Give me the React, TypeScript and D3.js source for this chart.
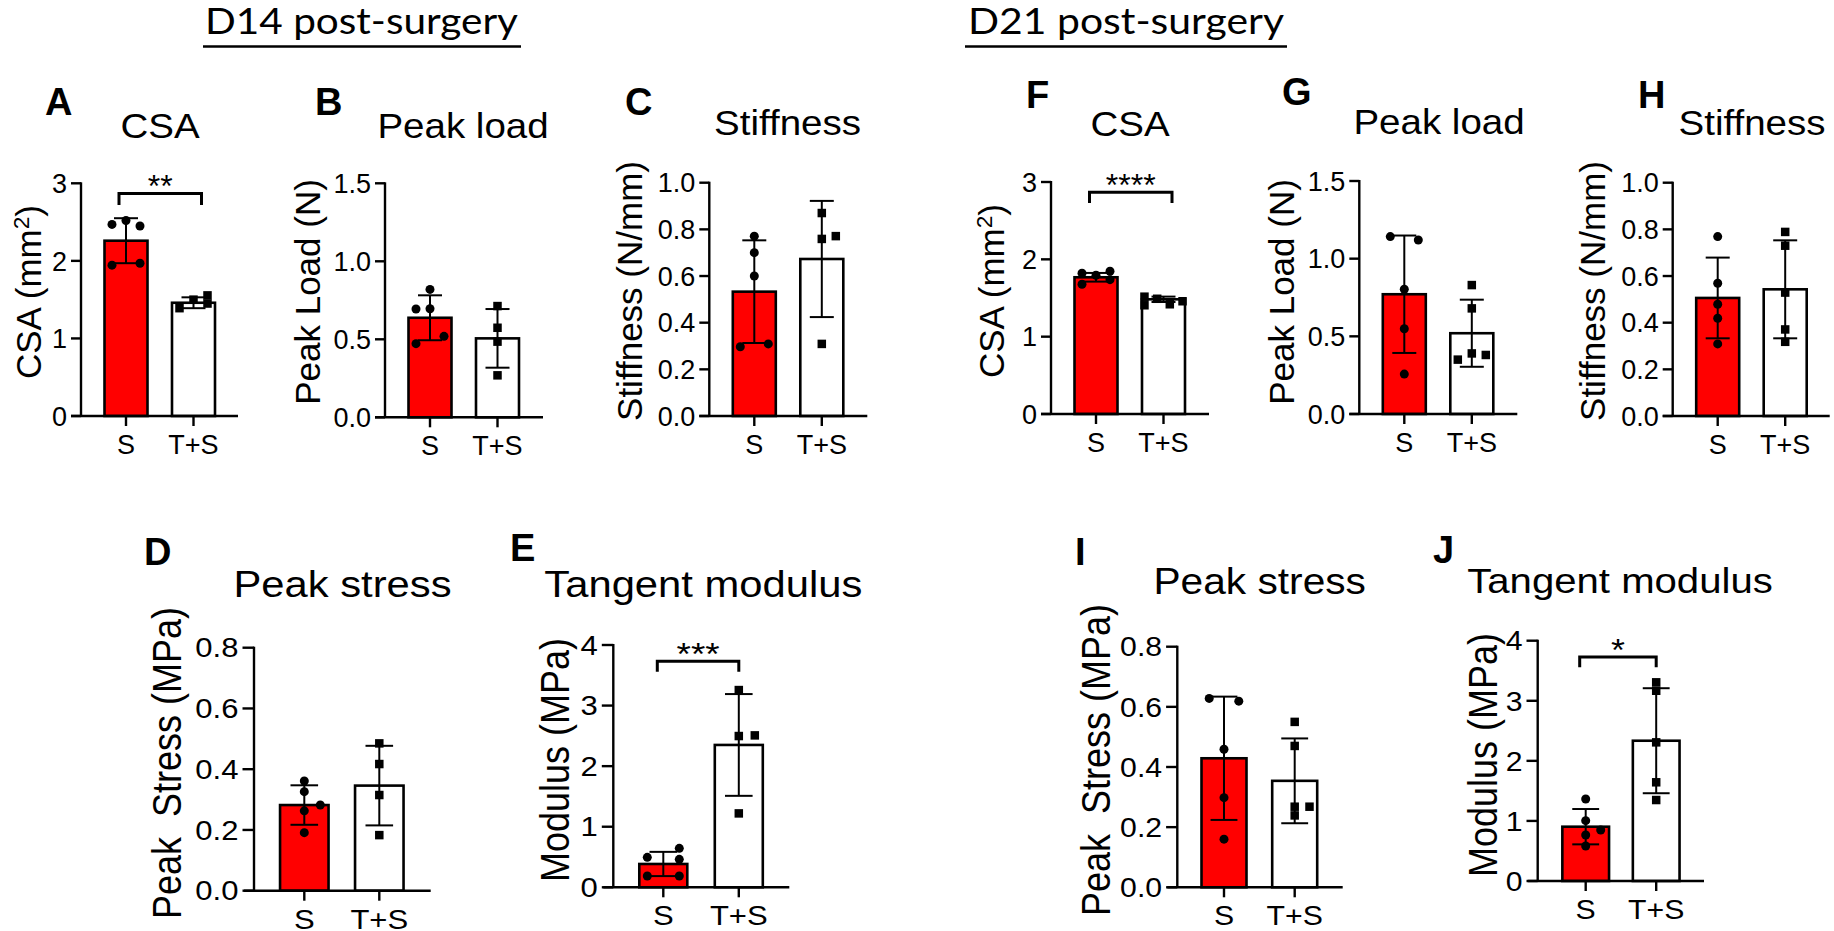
import React from "react";
import * as d3 from "d3";

// ---------- data ----------
const groups = ["S", "T+S"];

// D14 post-surgery
const csaD14_S = [2.47, 2.52, 2.45, 1.945, 1.97];
const csaD14_TS = [1.39, 1.5, 1.555, 1.45];
const csaD14_jitS = [-1, 0, 1, -1, 1];
const csaD14_jitTS = [-1, 0, 1, 1];
const csaD14_mean = [2.26, 1.46];
const csaD14_sd = [0.29, 0.07];

const loadD14_S = [0.82, 0.694, 0.696, 0.472, 0.519];
const loadD14_TS = [0.713, 0.574, 0.485, 0.269];
const loadD14_jitS = [0, -1, 0, -1, 1];
const loadD14_jitTS = [0, 0, 0, 0];
const loadD14_mean = [0.638, 0.506];
const loadD14_sd = [0.144, 0.188];

const stiffD14_S = [0.771, 0.7, 0.6, 0.297, 0.309];
const stiffD14_TS = [0.87, 0.759, 0.771, 0.309];
const stiffD14_jitS = [0, 0, 0, -1, 1];
const stiffD14_jitTS = [0, 0, 1, 0];
const stiffD14_mean = [0.533, 0.673];
const stiffD14_sd = [0.22, 0.249];

const stressD14_S = [0.361, 0.326, 0.263, 0.282, 0.191];
const stressD14_TS = [0.485, 0.417, 0.315, 0.183];
const stressD14_jitS = [0, 0, 0, 1, 0];
const stressD14_jitTS = [0, 0, 0, 0];
const stressD14_mean = [0.282, 0.346];
const stressD14_sd = [0.065, 0.131];

const modD14_S = [0.495, 0.643, 0.462, 0.186, 0.186];
const modD14_TS = [3.256, 2.497, 2.508, 1.22];
const modD14_jitS = [-1, 1, 1, -1, 1];
const modD14_jitTS = [0, 0, 1, 0];
const modD14_mean = [0.385, 2.35];
const modD14_sd = [0.2, 0.84];

// D21 post-surgery
const csaD21_S = [1.82, 1.794, 1.846, 1.678, 1.737];
const csaD21_TS = [1.517, 1.49, 1.406, 1.419, 1.458];
const csaD21_jitS = [-1, 0, 1, -1, 1];
const csaD21_jitTS = [-1.36, -0.45, -1.36, 0.45, 1.36];
const csaD21_mean = [1.768, 1.483];
const csaD21_sd = [0.056, 0.035];

const loadD21_S = [1.142, 1.12, 0.803, 0.549, 0.257];
const loadD21_TS = [0.83, 0.68, 0.35, 0.39, 0.38];
const loadD21_jitS = [-1, 1, 0, 0, 0];
const loadD21_jitTS = [0, 0, -1, 0, 1];
const loadD21_mean = [0.771, 0.52];
const loadD21_sd = [0.378, 0.216];

const stiffD21_S = [0.769, 0.569, 0.479, 0.419, 0.309];
const stiffD21_TS = [0.789, 0.73, 0.529, 0.371, 0.318];
const stiffD21_jitS = [0, 0, 0, 0, 0];
const stiffD21_jitTS = [0, 0, 0, 0, 0];
const stiffD21_mean = [0.506, 0.543];
const stiffD21_sd = [0.173, 0.21];

const stressD21_S = [0.628, 0.619, 0.459, 0.298, 0.16];
const stressD21_TS = [0.55, 0.47, 0.268, 0.268, 0.239];
const stressD21_jitS = [-1, 1, 0, 0, 0];
const stressD21_jitTS = [0, 0, 0, 1, 0];
const stressD21_mean = [0.429, 0.354];
const stressD21_sd = [0.205, 0.141];

const modD21_S = [1.365, 1.004, 0.849, 0.766, 0.583];
const modD21_TS = [3.307, 3.167, 2.308, 1.643, 1.348];
const modD21_jitS = [0, 0, 1, 0, 0];
const modD21_jitTS = [0, 0, 0, 0, 0];
const modD21_mean = [0.904, 2.335];
const modD21_sd = [0.294, 0.874];

const headers = ["D14 post-surgery", "D21 post-surgery"];

// ---------- layout ----------
const FONT = "'Liberation Sans', Arial, Helvetica, sans-serif";
const RED = "#ff0000";

type Sig = { text: string; val: number; leg: number; dl: number; dr: number };
type Panel = {
  letter: string;
  title: string;
  ylab: React.ReactNode;
  yMax: number;
  step: number;
  fmt: string;
  ax: number;
  yTop: number;
  y0: number;
  c1: number;
  c2: number;
  bw: number;
  xLen: number;
  sx: number;
  titleSx: number;
  jit: number;
  titlePos: [number, number];
  letterPos: [number, number];
  ylabPos: [number, number];
  ylabSize: number;
  titleSize: number;
  means: number[];
  sds: number[];
  pts: number[][];
  jits: number[][];
  sig?: Sig;
};

const csaLabel = (
  <>
    CSA (mm
    <tspan fontSize="0.65em" dy="-0.55em">2</tspan>
    <tspan dy="0.36em">)</tspan>
  </>
);

const top = { yMaxOff: 0, c1: 45, c2: 112.5, bw: 43, xLen: 158, sx: 1, titleSx: 1.1, jit: 14, ylabSize: 35, titleSize: 35 };

const panels: Panel[] = [
  {
    ...top, letter: "A", title: "CSA", ylab: csaLabel, yMax: 3, step: 1, fmt: "d",
    ax: 81, yTop: 183.3, y0: 416, xLen: 157,
    titlePos: [160, 138], letterPos: [45, 115], ylabPos: [29, 292],
    means: csaD14_mean, sds: csaD14_sd, pts: [csaD14_S, csaD14_TS], jits: [csaD14_jitS, csaD14_jitTS],
    sig: { text: "**", val: 2.87, leg: 2.72, dl: -7, dr: 8 },
  },
  {
    ...top, letter: "B", title: "Peak load", ylab: "Peak Load (N)", yMax: 1.5, step: 0.5, fmt: ".1f",
    ax: 385, yTop: 183.3, y0: 417.3,
    titlePos: [463, 138], letterPos: [315, 115], ylabPos: [308, 292],
    means: loadD14_mean, sds: loadD14_sd, pts: [loadD14_S, loadD14_TS], jits: [loadD14_jitS, loadD14_jitTS],
  },
  {
    ...top, letter: "C", title: "Stiffness", ylab: "Stiffness (N/mm)", yMax: 1, step: 0.2, fmt: ".1f",
    ax: 709.3, yTop: 182.7, y0: 416,
    titlePos: [787.5, 135], letterPos: [625, 115], ylabPos: [630, 291],
    means: stiffD14_mean, sds: stiffD14_sd, pts: [stiffD14_S, stiffD14_TS], jits: [stiffD14_jitS, stiffD14_jitTS],
  },
  {
    ...top, letter: "F", title: "CSA", ylab: csaLabel, yMax: 3, step: 1, fmt: "d",
    ax: 1051, yTop: 182, y0: 414,
    titlePos: [1130, 136], letterPos: [1026, 108], ylabPos: [992, 291],
    means: csaD21_mean, sds: csaD21_sd, pts: [csaD21_S, csaD21_TS], jits: [csaD21_jitS, csaD21_jitTS],
    sig: { text: "****", val: 2.868, leg: 2.73, dl: -6.5, dr: 8.5 },
  },
  {
    ...top, letter: "G", title: "Peak load", ylab: "Peak Load (N)", yMax: 1.5, step: 0.5, fmt: ".1f",
    ax: 1359.3, yTop: 181, y0: 414,
    titlePos: [1439, 134], letterPos: [1282, 105], ylabPos: [1282, 292],
    means: loadD21_mean, sds: loadD21_sd, pts: [loadD21_S, loadD21_TS], jits: [loadD21_jitS, loadD21_jitTS],
  },
  {
    ...top, letter: "H", title: "Stiffness", ylab: "Stiffness (N/mm)", yMax: 1, step: 0.2, fmt: ".1f",
    ax: 1672.7, yTop: 182.7, y0: 416, xLen: 157,
    titlePos: [1752, 135], letterPos: [1638, 108], ylabPos: [1593, 291],
    means: stiffD21_mean, sds: stiffD21_sd, pts: [stiffD21_S, stiffD21_TS], jits: [stiffD21_jitS, stiffD21_jitTS],
  },
  {
    letter: "D", title: "Peak stress", ylab: "Peak  Stress (MPa)", yMax: 0.8, step: 0.2, fmt: ".1f",
    ax: 254, yTop: 647.7, y0: 890.7, c1: 50.3, c2: 125.3, bw: 48.5, xLen: 176.7, sx: 1.15, titleSx: 1.16, jit: 16,
    titlePos: [342.5, 596.7], letterPos: [144, 565], ylabPos: [167, 763], ylabSize: 36, titleSize: 36,
    means: stressD14_mean, sds: stressD14_sd, pts: [stressD14_S, stressD14_TS], jits: [stressD14_jitS, stressD14_jitTS],
  },
  {
    letter: "E", title: "Tangent modulus", ylab: "Modulus (MPa)", yMax: 4, step: 1, fmt: "d",
    ax: 613.3, yTop: 645, y0: 887.3, c1: 50, c2: 125.5, bw: 48, xLen: 176, sx: 1.15, titleSx: 1.16, jit: 16,
    titlePos: [703.3, 596.7], letterPos: [510, 561], ylabPos: [555, 760], ylabSize: 36, titleSize: 36,
    means: modD14_mean, sds: modD14_sd, pts: [modD14_S, modD14_TS], jits: [modD14_jitS, modD14_jitTS],
    sig: { text: "***", val: 3.73, leg: 3.56, dl: -6, dr: 0 },
  },
  {
    letter: "I", title: "Peak stress", ylab: "Peak  Stress (MPa)", yMax: 0.8, step: 0.2, fmt: ".1f",
    ax: 1177.3, yTop: 646.7, y0: 887.3, c1: 46.7, c2: 117.4, bw: 45, xLen: 165.4, sx: 1.12, titleSx: 1.13, jit: 14.8,
    titlePos: [1259.7, 594], letterPos: [1075, 565], ylabPos: [1095.5, 760], ylabSize: 36, titleSize: 36,
    means: stressD21_mean, sds: stressD21_sd, pts: [stressD21_S, stressD21_TS], jits: [stressD21_jitS, stressD21_jitTS],
  },
  {
    letter: "J", title: "Tangent modulus", ylab: "Modulus (MPa)", yMax: 4, step: 1, fmt: "d",
    ax: 1537.7, yTop: 640.7, y0: 881, c1: 48, c2: 118.5, bw: 46.7, xLen: 166.3, sx: 1.12, titleSx: 1.115, jit: 15,
    titlePos: [1620, 593.3], letterPos: [1433, 563], ylabPos: [1482.5, 755], ylabSize: 36, titleSize: 36,
    means: modD21_mean, sds: modD21_sd, pts: [modD21_S, modD21_TS], jits: [modD21_jitS, modD21_jitTS],
    sig: { text: "*", val: 3.73, leg: 3.557, dl: -6, dr: 0 },
  },
];

function PanelView({ p }: { p: Panel }) {
  const y = d3.scaleLinear().domain([0, p.yMax]).range([p.y0, p.yTop]);
  const x = d3.scalePoint<string>().domain(groups).range([p.ax + p.c1, p.ax + p.c2]);
  const ticks = d3.range(0, p.yMax + p.step / 2, p.step);
  const fmt = d3.format(p.fmt);
  const cap = 12 * p.sx;
  const r = 4.5;
  const sq = 8.5;
  return (
    <g fontFamily={FONT} fill="#000">
      {/* panel letter */}
      <text x={p.letterPos[0]} y={p.letterPos[1]} fontSize={38} fontWeight="bold">
        {p.letter}
      </text>
      {/* title */}
      <text
        transform={`translate(${p.titlePos[0]},${p.titlePos[1]}) scale(${p.titleSx},1)`}
        fontSize={p.titleSize}
        textAnchor="middle"
      >
        {p.title}
      </text>
      {/* y label */}
      <text
        transform={`translate(${p.ylabPos[0]},${p.ylabPos[1]}) rotate(-90) scale(1,${p.sx})`}
        fontSize={p.ylabSize}
        textAnchor="middle"
        dy="0.35em"
        style={{ whiteSpace: "pre" }}
      >
        {p.ylab}
      </text>
      {/* bars */}
      {groups.map((g, i) => (
        <rect
          key={g}
          x={(x(g) as number) - p.bw / 2}
          y={y(p.means[i])}
          width={p.bw}
          height={p.y0 - y(p.means[i])}
          fill={i === 0 ? RED : "#fff"}
          stroke="#000"
          strokeWidth={2.6}
        />
      ))}
      {/* error bars */}
      {groups.map((g, i) => {
        const cx = x(g) as number;
        const hi = y(p.means[i] + p.sds[i]);
        const lo = y(p.means[i] - p.sds[i]);
        return (
          <g key={g} stroke="#000" strokeWidth={2}>
            <line x1={cx} x2={cx} y1={hi} y2={lo} />
            <line x1={cx - cap} x2={cx + cap} y1={hi} y2={hi} />
            <line x1={cx - cap} x2={cx + cap} y1={lo} y2={lo} />
          </g>
        );
      })}
      {/* points */}
      {groups.map((g, i) => {
        const cx = x(g) as number;
        return p.pts[i].map((v, k) => {
          const px = cx + p.jits[i][k] * p.jit;
          const py = y(v);
          return i === 0 ? (
            <circle key={g + k} cx={px} cy={py} r={r} fill="#000" />
          ) : (
            <rect key={g + k} x={px - sq / 2} y={py - sq / 2} width={sq} height={sq} fill="#000" />
          );
        });
      })}
      {/* axes */}
      <g stroke="#000" strokeWidth={2.4} fill="none">
        <line x1={p.ax} x2={p.ax} y1={p.y0} y2={p.yTop - 1} />
        <line x1={p.ax - 10} x2={p.ax + p.xLen} y1={p.y0} y2={p.y0} />
        {ticks.map((t) => (
          <line key={t} x1={p.ax - 10 * p.sx} x2={p.ax} y1={y(t)} y2={y(t)} />
        ))}
        {groups.map((g) => (
          <line key={g} x1={x(g)} x2={x(g)} y1={p.y0} y2={p.y0 + 10} />
        ))}
      </g>
      {ticks.map((t) => (
        <text
          key={t}
          transform={`translate(${p.ax - 10 * p.sx - 4},${y(t)}) scale(${p.sx},1)`}
          dy="0.36em"
          fontSize={27}
          textAnchor="end"
        >
          {fmt(t)}
        </text>
      ))}
      {groups.map((g) => (
        <text
          key={g}
          transform={`translate(${x(g)},${p.y0 + 38}) scale(${p.sx},1)`}
          fontSize={27}
          textAnchor="middle"
        >
          {g}
        </text>
      ))}
      {/* significance */}
      {p.sig && (() => {
        const x1 = (x(groups[0]) as number) + p.sig.dl;
        const x2 = (x(groups[1]) as number) + p.sig.dr;
        const by = y(p.sig.val);
        const ly = y(p.sig.leg);
        return (
          <g>
            <path d={`M${x1},${ly}V${by}H${x2}V${ly}`} fill="none" stroke="#000" strokeWidth={3} />
            <text
              transform={`translate(${(x1 + x2) / 2},${by + 4}) scale(${p.sx},1)`}
              fontSize={32}
              textAnchor="middle"
            >
              {p.sig.text}
            </text>
          </g>
        );
      })()}
    </g>
  );
}

const headerLayout = [
  { x: 205, w: 313, u1: 203, u2: 521 },
  { x: 968, w: 316, u1: 965, u2: 1287 },
];

export default function App() {
  return (
    <svg
      width={1834}
      height={931}
      viewBox="0 0 1834 931"
      style={{ position: "absolute", left: 0, top: 0, background: "#fff" }}
    >
      <rect width={1834} height={931} fill="#fff" />
      {headers.map((h, i) => (
        <g key={h}>
          <text
            x={headerLayout[i].x}
            y={33.5}
            fontFamily="Lato, 'Open Sans', sans-serif"
            fontSize={37}
            textLength={headerLayout[i].w}
            lengthAdjust="spacingAndGlyphs"
            fill="#000"
          >
            {h}
          </text>
          <line
            x1={headerLayout[i].u1}
            x2={headerLayout[i].u2}
            y1={46.5}
            y2={46.5}
            stroke="#000"
            strokeWidth={2.6}
          />
        </g>
      ))}
      {panels.map((p) => (
        <PanelView key={p.letter} p={p} />
      ))}
    </svg>
  );
}
